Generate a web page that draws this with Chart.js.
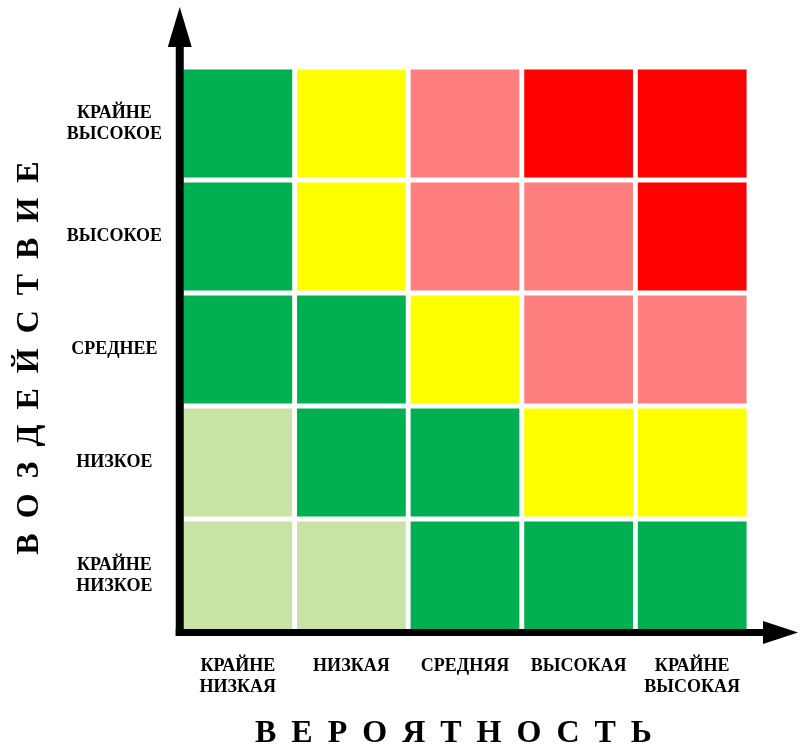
<!DOCTYPE html>
<html>
<head>
<meta charset="utf-8">
<script src="https://cdn.jsdelivr.net/npm/chart.js@4/dist/chart.umd.min.js"></script>
<style>
  html, body { margin: 0; padding: 0; background: #fff; }
  #wrap { width: 801px; height: 749px; position: relative; }
</style>
</head>
<body>
<div id="wrap"><canvas id="riskChart"></canvas></div>
<script>
// likelihood (x), left to right
const likelihood = [["КРАЙНЕ", "НИЗКАЯ"], "НИЗКАЯ", "СРЕДНЯЯ", "ВЫСОКАЯ", ["КРАЙНЕ", "ВЫСОКАЯ"]];
// impact (y), bottom to top
const impact = [["КРАЙНЕ", "НИЗКОЕ"], "НИЗКОЕ", "СРЕДНЕЕ", "ВЫСОКОЕ", ["КРАЙНЕ", "ВЫСОКОЕ"]];

// risk level of every cell, one row per impact level (bottom to top)
const rowExtremelyLow = [0, 0, 1, 1, 1];
const rowLow          = [0, 1, 1, 2, 2];
const rowMedium       = [1, 1, 2, 3, 3];
const rowHigh         = [1, 2, 3, 3, 4];
const rowExtremelyHigh= [1, 2, 3, 4, 4];
const riskRows = [rowExtremelyLow, rowLow, rowMedium, rowHigh, rowExtremelyHigh];

const levelColors = ["#C9E3A6", "#00B050", "#FFFF00", "#FF7F7F", "#FF0000"];

const axisTitleX = "ВЕРОЯТНОСТЬ";
const axisTitleY = "ВОЗДЕЙСТВИЕ";

const serif = "'Liberation Serif', 'Times New Roman', serif";
const tickFont = { family: serif, size: 18, weight: "bold", lineHeight: 1.15 };

const datasets = riskRows.map(function(row, i){
    return {
        label: Array.isArray(impact[i]) ? impact[i].join(" ") : impact[i],
        data: row.map(function(){ return 1; }),
        backgroundColor: row.map(function(l){ return levelColors[l]; }),
        borderColor: "#ffffff",
        borderWidth: 2.75,
        borderSkipped: false,
        barPercentage: 1,
        categoryPercentage: 1
    };
});

function spacedText(ctx, text, gap){
    const chars = text.split("");
    const widths = chars.map(function(c){ return ctx.measureText(c).width; });
    const total = widths.reduce(function(a, b){ return a + b; }, 0) + gap * (chars.length - 1);
    let x = -total / 2;
    chars.forEach(function(c, i){
        ctx.fillText(c, x, 0);
        x += widths[i] + gap;
    });
}

const axesPlugin = {
    id: "axesPlugin",
    afterDraw: function(chart){
        const ctx = chart.ctx;
        const area = chart.chartArea;
        const ax = area.left - 1.25;
        const ay = area.bottom + 0.5;
        ctx.save();
        ctx.fillStyle = "#000";

        // y axis line + arrow
        ctx.fillRect(ax - 4, 45, 8, ay + 3.5 - 45);
        ctx.beginPath();
        ctx.moveTo(ax, 7);
        ctx.lineTo(ax - 12, 47);
        ctx.lineTo(ax + 12, 47);
        ctx.closePath();
        ctx.fill();

        // x axis line + arrow
        ctx.fillRect(ax - 4, ay - 3.5, 765 - (ax - 4), 7);
        ctx.beginPath();
        ctx.moveTo(798, ay);
        ctx.lineTo(763, ay - 11.5);
        ctx.lineTo(763, ay + 11.5);
        ctx.closePath();
        ctx.fill();

        // axis titles
        ctx.font = "bold 32px " + serif;
        ctx.textBaseline = "alphabetic";
        ctx.textAlign = "left";

        ctx.save();
        ctx.translate(453.5, 742);
        spacedText(ctx, axisTitleX, 15);
        ctx.restore();

        ctx.save();
        ctx.translate(38, 358);
        ctx.rotate(-Math.PI / 2);
        spacedText(ctx, axisTitleY, 15);
        ctx.restore();

        ctx.restore();
    }
};

const ctx = document.getElementById("riskChart").getContext("2d");

const chart = new Chart(ctx, {
    type: "bar",
    data: {
        labels: likelihood,
        datasets: datasets
    },
    options: {
        responsive: true,
        maintainAspectRatio: false,
        animation: false,
        layout: { padding: { top: 67, right: 52, left: 0, bottom: 0 } },
        plugins: {
            legend: { display: false },
            tooltip: { enabled: false }
        },
        scales: {
            x: {
                stacked: true,
                grid: { display: false, drawTicks: false },
                border: { display: false },
                ticks: {
                    color: "#000",
                    font: tickFont,
                    padding: 24,
                    maxRotation: 0,
                    autoSkip: false
                },
                afterFit: function(scale){ scale.height = 117; }
            },
            y: {
                stacked: true,
                min: 0,
                max: 5,
                grid: { display: false, drawTicks: false },
                border: { display: false },
                afterBuildTicks: function(scale){
                    scale.ticks = impact.map(function(_, i){ return { value: i + 0.5 }; });
                },
                ticks: {
                    color: "#000",
                    font: tickFont,
                    crossAlign: "center",
                    padding: 19,
                    callback: function(value, index){ return impact[index]; }
                },
                afterFit: function(scale){ scale.width = 181; }
            }
        }
    },
    plugins: [axesPlugin]
});
</script>
</body>
</html>
